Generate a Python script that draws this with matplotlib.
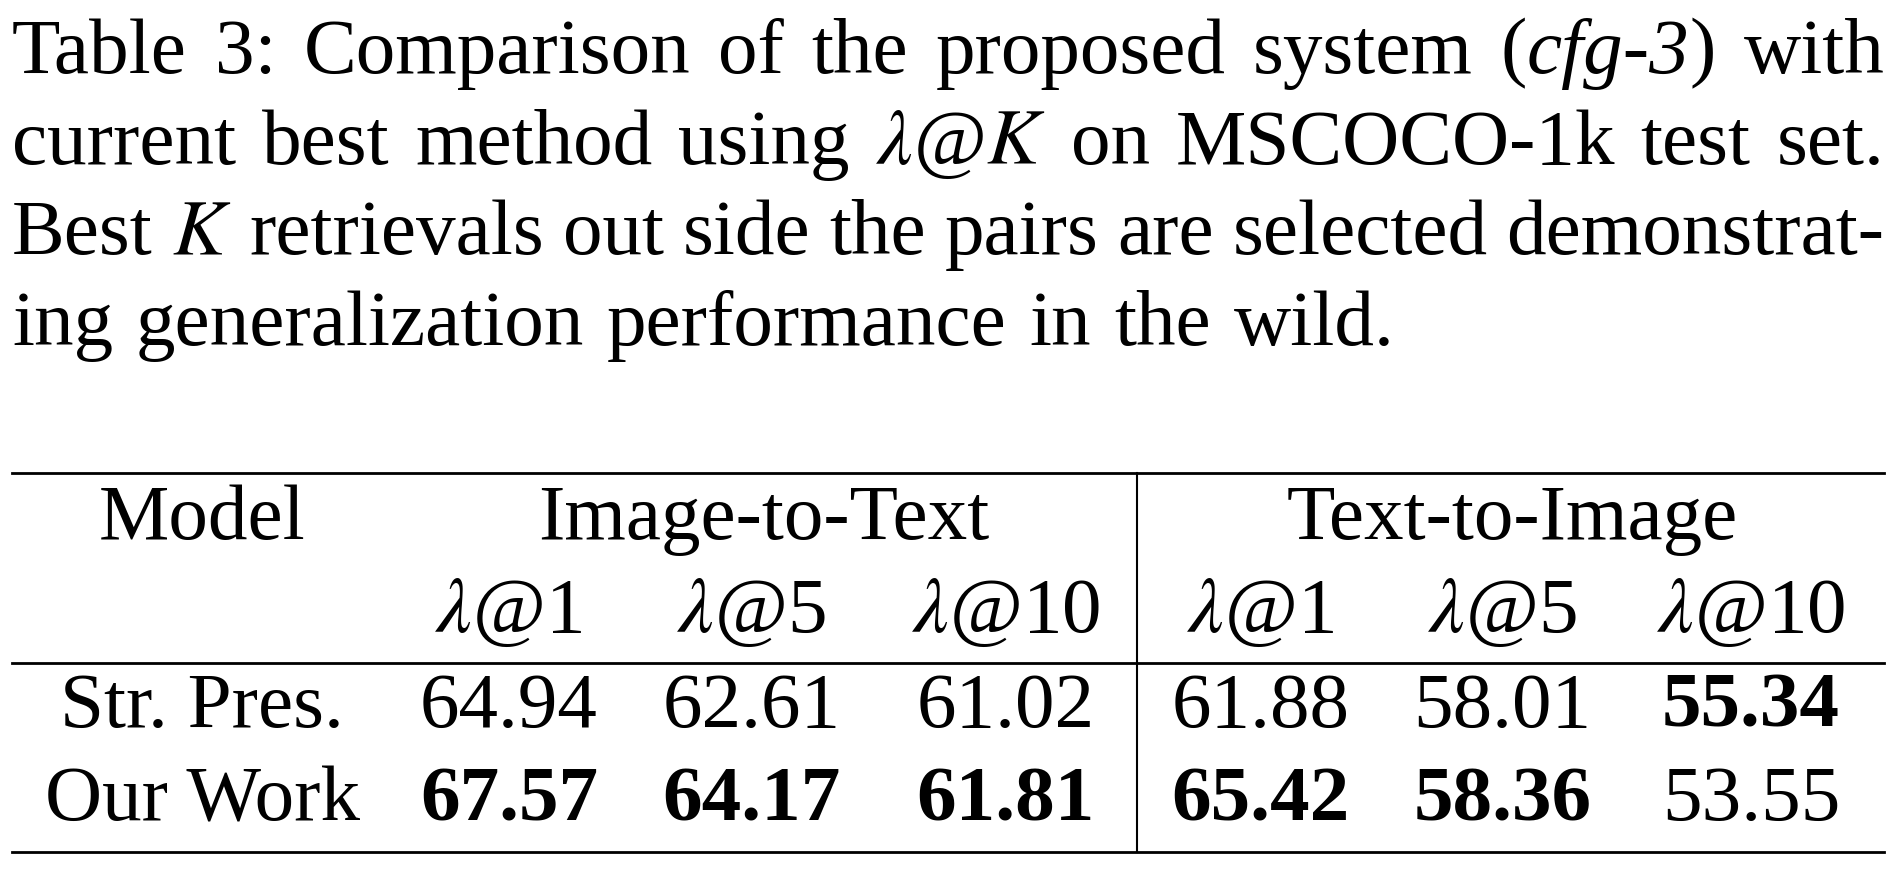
import matplotlib
matplotlib.use("Agg")
import matplotlib.pyplot as plt
from matplotlib.lines import Line2D

plt.rcParams['font.family'] = ['Liberation Serif', 'DejaVu Serif']
plt.rcParams['mathtext.fontset'] = 'stix'

# ---- data ----
groups = ["Image-to-Text", "Text-to-Image"]
metrics = [r"$\lambda$@1", r"$\lambda$@5", r"$\lambda$@10"] * 2
models = ["Str. Pres.", "Our Work"]
values = [
    [64.94, 62.61, 61.02, 61.88, 58.01, 55.34],
    [67.57, 64.17, 61.81, 65.42, 58.36, 53.55],
]
bold = [
    [False, False, False, False, False, True],
    [True, True, True, True, True, False],
]

# caption lines: words made of (text, style) segments
N, I = "normal", "italic"
caption = [
    [[("Table", N)], [("3:", N)], [("Comparison", N)], [("of", N)], [("the", N)],
     [("proposed", N)], [("system", N)], [("(", N), ("cfg-3", I), (")", N)], [("with", N)]],
    [[("current", N)], [("best", N)], [("method", N)], [("using", N)],
     [(r"$\lambda$@$K$", N)], [("on", N)], [("MSCOCO-1k", N)], [("test", N)], [("set.", N)]],
    [[("Best", N)], [(r"$K$", N)], [("retrievals", N)], [("out", N)], [("side", N)],
     [("the", N)], [("pairs", N)], [("are", N)], [("selected", N)], [("demonstrat-", N)]],
    [[("ing", N)], [("generalization", N)], [("performance", N)], [("in", N)],
     [("the", N)], [("wild.", N)]],
]

W, H = 1568.0, 723.0
fig = plt.figure(figsize=(19, 8.76), dpi=100)
fx = lambda x: x / W
fy = lambda y: 1 - y / H
FS = 57
r = fig.canvas.get_renderer()

left, right = 10, 1555
for li, line in enumerate(caption):
    yb = fy(60 + li * 75)
    objs = []
    for word in line:
        segs = []
        for s, st in word:
            t = fig.text(0, yb, s, fontsize=FS, fontstyle=st, va='baseline')
            segs.append((t, t.get_window_extent(r).width / fig.bbox.width))
        objs.append(segs)
    widths = [sum(w for _, w in segs) for segs in objs]
    space = 0.012
    if li < len(caption) - 1:
        space = (fx(right) - fx(left) - sum(widths)) / (len(objs) - 1)
    x = fx(left)
    for segs, wd in zip(objs, widths):
        xx = x
        for t, w in segs:
            t.set_x(xx)
            xx += w
        x += wd + space

# ---- table ----
def hline(y, lw=2):
    fig.add_artist(Line2D([fx(10), fx(1555)], [fy(y), fy(y)], color='black', lw=lw))

hline(390)
hline(547)
hline(703)
fig.add_artist(Line2D([fx(938), fx(938)], [fy(390), fy(703)], color='black', lw=1.5))

cols = [420, 620, 830, 1040, 1240, 1445]
fig.text(fx(167), fy(445), "Model", fontsize=FS, ha='center', va='baseline')
fig.text(fx(630), fy(445), groups[0], fontsize=FS, ha='center', va='baseline')
fig.text(fx(1248), fy(445), groups[1], fontsize=FS, ha='center', va='baseline')
for c, m in zip(cols, metrics):
    fig.text(fx(c), fy(522), m, fontsize=FS, ha='center', va='baseline')

row_y = [600, 677]
for ry, name, vals, bs in zip(row_y, models, values, bold):
    fig.text(fx(167), fy(ry), name, fontsize=FS, ha='center', va='baseline')
    for c, v, b in zip(cols, vals, bs):
        fig.text(fx(c), fy(ry), f"{v:.2f}", fontsize=FS, ha='center', va='baseline',
                 fontweight='bold' if b else 'normal')

fig.savefig("out.png", dpi=100, facecolor='white')
